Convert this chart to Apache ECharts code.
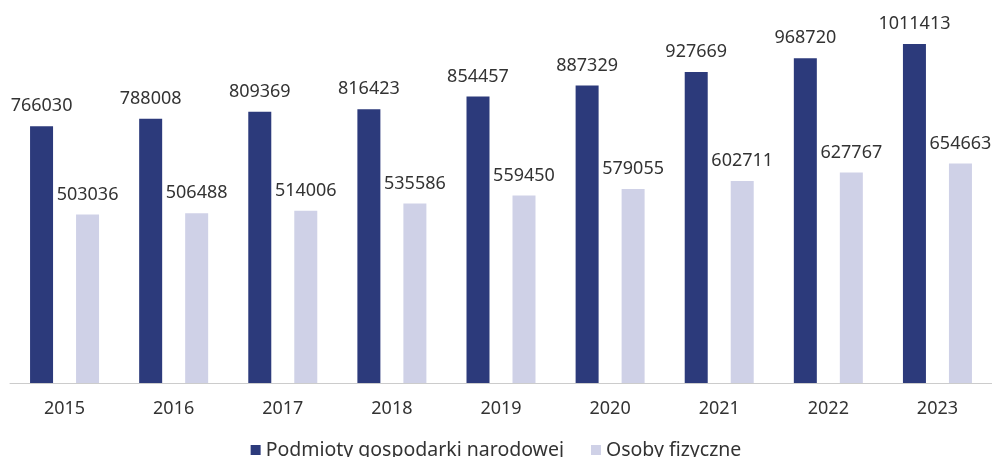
<!DOCTYPE html>
<html>
<head>
<meta charset="utf-8">
<script src="https://cdn.jsdelivr.net/npm/echarts@6/dist/echarts.min.js"></script>
<style>html,body{margin:0;padding:0;background:#fff}#c{width:992px;height:457px}</style>
</head>
<body>
<div id="c"></div>
<script>
const categories = ['2015','2016','2017','2018','2019','2020','2021','2022','2023'];
const podmioty = [766030, 788008, 809369, 816423, 854457, 887329, 927669, 968720, 1011413];
const osoby = [503036, 506488, 514006, 535586, 559450, 579055, 602711, 627767, 654663];
const seriesNames = ['Podmioty gospodarki narodowej', 'Osoby fizyczne'];

const font = 'Noto Sans';
const chart = echarts.init(document.getElementById('c'));
const lbl = {show: true, position: 'top', distance: 11, color: '#333', fontSize: 18, fontFamily: font};
chart.setOption({
  animation: false,
  textStyle: {fontFamily: font},
  grid: {left: 10, right: 0, top: 14.3, bottom: 74, containLabel: false},
  legend: {
    data: seriesNames, top: 435, left: 'center', itemWidth: 10, itemHeight: 10, itemGap: 27,
    icon: 'rect', textStyle: {fontSize: 19.5, color: '#333', fontFamily: font}
  },
  xAxis: {
    type: 'category', data: categories,
    axisLine: {lineStyle: {color: '#cccccc'}}, axisTick: {show: false},
    axisLabel: {color: '#333', fontSize: 18, fontFamily: font, margin: 17}
  },
  yAxis: {type: 'value', min: 0, max: 1100000, show: false, splitLine: {show: false}},
  series: [
    {name: seriesNames[0], type: 'bar', data: podmioty, barWidth: 23, barGap: '100%', itemStyle: {color: '#2c3a7b'}, label: lbl},
    {name: seriesNames[1], type: 'bar', data: osoby, barWidth: 23, itemStyle: {color: '#cfd1e7'}, label: lbl}
  ]
});
</script>
</body>
</html>
